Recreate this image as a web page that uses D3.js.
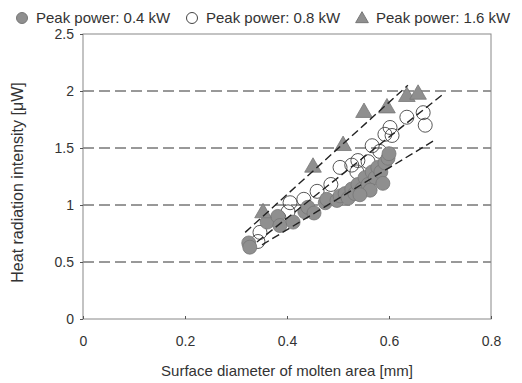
<!DOCTYPE html>
<html>
<head>
<meta charset="utf-8">
<script src="https://cdn.jsdelivr.net/npm/d3@7"></script>
<style>
  body { margin: 0; background: #fff; }
  text { font-family: "Liberation Sans", Arial, sans-serif; fill: #333; }
</style>
</head>
<body>
<script>
// 0.4 kW (filled grey circles)
var low = [
  [0.325, 0.667], [0.327, 0.63], [0.361, 0.85], [0.382, 0.90], [0.386, 0.82],
  [0.412, 0.85], [0.435, 0.94], [0.441, 0.98], [0.453, 0.93], [0.475, 1.02],
  [0.478, 1.05], [0.498, 1.04], [0.504, 1.08], [0.514, 1.10], [0.52, 1.06],
  [0.527, 1.14], [0.533, 1.10], [0.539, 1.18], [0.547, 1.14], [0.553, 1.24],
  [0.559, 1.18], [0.567, 1.29], [0.573, 1.24], [0.578, 1.33], [0.584, 1.29],
  [0.592, 1.37], [0.598, 1.41], [0.588, 1.19], [0.563, 1.13], [0.543, 1.09],
  [0.600, 1.45]
];
// 0.8 kW (open circles)
var mid = [
  [0.667, 1.81], [0.635, 1.77], [0.671, 1.70], [0.602, 1.68], [0.592, 1.62],
  [0.606, 1.61], [0.567, 1.52], [0.582, 1.47], [0.539, 1.39], [0.559, 1.38],
  [0.527, 1.35], [0.504, 1.33], [0.537, 1.29], [0.486, 1.18], [0.459, 1.12],
  [0.433, 1.05], [0.406, 1.02], [0.402, 0.94], [0.384, 0.89], [0.347, 0.76],
  [0.343, 0.68]
];
// 1.6 kW (grey triangles)
var high = [
  [0.353, 0.93], [0.451, 1.33], [0.51, 1.52], [0.551, 1.81],
  [0.596, 1.85], [0.635, 1.95], [0.657, 1.97]
];
// fitted trend lines: [x0, y0, x1, y1]
var fits = [
  [0.318, 0.76, 0.637, 2.05],
  [0.341, 0.675, 0.704, 1.965],
  [0.351, 0.65, 0.69, 1.57]
];
var xTicks = [0, 0.2, 0.4, 0.6, 0.8];
var yTicks = [0, 0.5, 1, 1.5, 2, 2.5];
var gridY = [0.5, 1, 1.5, 2];
var legendLabels = ["Peak power: 0.4 kW", "Peak power: 0.8 kW", "Peak power: 1.6 kW"];

var W = 522, H = 383;
var margin = { top: 34, right: 31, bottom: 64, left: 83 };
var w = W - margin.left - margin.right;
var h = H - margin.top - margin.bottom;

var svg = d3.select("body").append("svg").attr("width", W).attr("height", H);
var g = svg.append("g").attr("transform", "translate(" + margin.left + "," + margin.top + ")");

var x = d3.scaleLinear().domain([0, 0.8]).range([0, w]);
var y = d3.scaleLinear().domain([0, 2.5]).range([h, 0]);

// grid (dashed)
g.selectAll(".grid").data(gridY).enter().append("line")
  .attr("x1", 0).attr("x2", w)
  .attr("y1", function (d) { return y(d); }).attr("y2", function (d) { return y(d); })
  .attr("stroke", "#333").attr("stroke-width", 1).attr("stroke-dasharray", "11,5");

// frame
g.append("rect").attr("width", w).attr("height", h)
  .attr("fill", "none").attr("stroke", "#888").attr("stroke-width", 1);

// axes
var yAxis = g.append("g").call(d3.axisLeft(y).tickValues(yTicks).tickSize(3).tickPadding(6).tickFormat(d3.format("")));
var xAxis = g.append("g").attr("transform", "translate(0," + h + ")")
  .call(d3.axisBottom(x).tickValues(xTicks).tickSize(-3).tickPadding(17).tickFormat(d3.format("")));
[xAxis, yAxis].forEach(function (a) {
  a.select(".domain").remove();
  a.selectAll("line").attr("stroke", "#555");
  a.selectAll("text").style("font-size", "14px").attr("fill", "#333")
    .style("font-family", "'Liberation Sans', Arial, sans-serif");
});

// points
g.selectAll(".mid").data(mid).enter().append("circle")
  .attr("cx", function (d) { return x(d[0]); }).attr("cy", function (d) { return y(d[1]); })
  .attr("r", 7).attr("fill", "none").attr("stroke", "#444").attr("stroke-width", 0.9);

g.selectAll(".low").data(low).enter().append("circle")
  .attr("cx", function (d) { return x(d[0]); }).attr("cy", function (d) { return y(d[1]); })
  .attr("r", 7).attr("fill", "#8f8f8f").attr("stroke", "#777").attr("stroke-width", 0.8);

var tri = d3.symbol().type(d3.symbolTriangle).size(120);
g.selectAll(".high").data(high).enter().append("path")
  .attr("d", tri)
  .attr("transform", function (d) { return "translate(" + x(d[0]) + "," + y(d[1]) + ")"; })
  .attr("fill", "#8f8f8f").attr("stroke", "#777").attr("stroke-width", 0.8);

// trend lines
g.selectAll(".fit").data(fits).enter().append("line")
  .attr("x1", function (d) { return x(d[0]); }).attr("y1", function (d) { return y(d[1]); })
  .attr("x2", function (d) { return x(d[2]); }).attr("y2", function (d) { return y(d[3]); })
  .attr("stroke", "#222").attr("stroke-width", 1.4).attr("stroke-dasharray", "8,4");

// axis titles
svg.append("text").attr("x", margin.left + w / 2).attr("y", 376)
  .attr("text-anchor", "middle").style("font-size", "15px").text("Surface diameter of molten area [mm]");
svg.append("text").attr("transform", "translate(23," + (margin.top + h / 2 + 6) + ") rotate(-90)")
  .attr("text-anchor", "middle").style("font-size", "16px").text("Heat radiation intensity [\u03bcW]");

// legend
var lg = svg.append("g").attr("transform", "translate(0,18)");
var lx = [22, 192, 362];
lg.append("circle").attr("cx", lx[0]).attr("cy", 0).attr("r", 5.5).attr("fill", "#8f8f8f").attr("stroke", "#777");
lg.append("circle").attr("cx", lx[1]).attr("cy", 0).attr("r", 5.5).attr("fill", "none").attr("stroke", "#444");
lg.append("path").attr("d", d3.symbol().type(d3.symbolTriangle).size(70))
  .attr("transform", "translate(" + lx[2] + ",1)").attr("fill", "#8f8f8f").attr("stroke", "#777");
lg.selectAll(".lt").data(legendLabels).enter().append("text")
  .attr("x", function (d, i) { return lx[i] + 14; }).attr("y", 5)
  .style("font-size", "15px").text(function (d) { return d; });
</script>
</body>
</html>
